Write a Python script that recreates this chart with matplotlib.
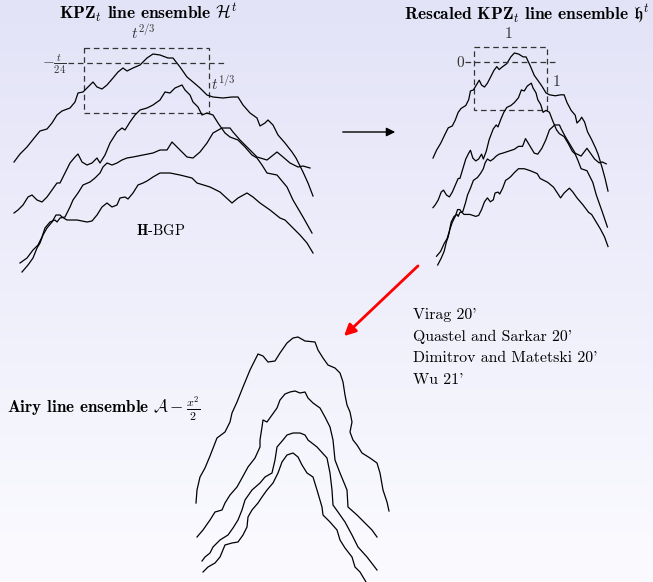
import numpy as np
import matplotlib
matplotlib.use("Agg")
import matplotlib.pyplot as plt
from matplotlib.patches import Rectangle

plt.rcParams["mathtext.fontset"] = "cm"
plt.rcParams["font.family"] = ["cmr10", "DejaVu Serif"]
plt.rcParams["axes.unicode_minus"] = False

# KPZ line ensemble curves (x, y) in the ensemble's own frame (y grows downward)
kpz_1 = [(14, 162), (20, 154), (27, 147), (35, 137), (40, 131), (47, 129), (52, 123), (57, 115),
         (62, 111), (70, 108), (75, 102), (78, 93), (83, 92), (88, 87), (93, 82), (97, 87),
         (102, 89), (107, 85), (113, 78), (118, 72), (123, 68), (127, 71), (133, 68), (140, 65),
         (147, 58), (153, 54), (160, 55), (168, 58), (173, 58), (180, 67), (187, 77), (193, 82),
         (200, 88), (207, 95), (213, 97), (223, 98), (232, 97), (238, 97), (243, 105), (250, 113),
         (257, 118), (260, 126), (265, 123), (268, 120), (273, 125), (278, 135), (285, 143),
         (292, 152), (296, 158), (303, 172), (308, 183), (313, 196)]
kpz_2 = [(14, 213), (18, 210), (23, 205), (28, 197), (32, 195), (37, 200), (42, 202), (47, 197),
         (52, 190), (57, 183), (60, 183), (65, 173), (70, 163), (75, 157), (78, 154), (82, 162),
         (87, 165), (92, 163), (97, 158), (100, 163), (105, 155), (110, 143), (117, 132), (122, 128),
         (125, 130), (130, 122), (135, 115), (140, 110), (147, 108), (153, 105), (160, 100),
         (165, 92), (170, 93), (175, 88), (182, 85), (185, 90), (190, 95), (193, 102), (198, 107),
         (202, 115), (207, 113), (213, 115), (218, 123), (225, 133), (230, 137), (238, 140),
         (245, 147), (252, 155), (257, 158), (262, 165), (267, 173), (277, 175), (287, 187),
         (293, 200), (303, 217), (312, 233)]
kpz_3 = [(20, 263), (27, 258), (33, 250), (38, 245), (42, 237), (45, 228), (50, 222), (55, 220),
         (57, 222), (60, 218), (65, 217), (70, 207), (73, 200), (78, 193), (83, 185), (90, 182),
         (95, 178), (100, 173), (103, 167), (107, 163), (112, 165), (117, 163), (122, 160),
         (127, 158), (133, 157), (143, 155), (153, 153), (160, 150), (167, 150), (172, 142),
         (180, 150), (187, 157), (193, 158), (200, 152), (207, 143), (213, 133), (222, 128),
         (230, 128), (233, 132), (240, 140), (248, 148), (257, 157), (267, 160), (277, 152),
         (283, 157), (290, 163), (298, 167), (303, 166), (310, 168)]
kpz_4 = [(22, 272), (28, 265), (33, 258), (37, 248), (40, 243), (43, 235), (47, 228), (52, 222),
         (56, 215), (60, 215), (62, 217), (67, 220), (77, 220), (87, 222), (92, 221), (97, 215),
         (102, 207), (107, 203), (112, 207), (117, 205), (120, 198), (125, 197), (128, 199),
         (133, 193), (138, 185), (143, 183), (147, 181), (153, 177), (160, 173), (167, 173),
         (170, 173), (180, 175), (192, 178), (197, 183), (210, 187), (220, 192), (232, 203),
         (238, 198), (247, 193), (253, 197), (260, 203), (270, 210), (280, 218), (285, 220),
         (293, 228), (300, 235), (307, 243), (313, 253)]

# Airy line ensemble curves
airy_1 = [(196, 503), (197, 490), (200, 477), (205, 468), (210, 456), (217, 438), (225, 432),
          (230, 422), (232, 413), (237, 402), (243, 387), (250, 370), (258, 354), (263, 356),
          (268, 362), (275, 361), (280, 353), (287, 343), (293, 338), (298, 337), (305, 341),
          (315, 342), (318, 350), (323, 358), (328, 365), (335, 368), (340, 373), (343, 382),
          (345, 395), (347, 405), (350, 412), (352, 422), (350, 432), (353, 440), (357, 445),
          (362, 453), (370, 458), (377, 463), (380, 473), (383, 490), (387, 502), (389, 511)]
airy_2 = [(197, 537), (203, 530), (210, 520), (215, 512), (222, 510), (225, 503), (230, 495),
          (237, 487), (242, 478), (248, 467), (255, 458), (260, 447), (260, 440), (262, 427),
          (263, 420), (267, 422), (272, 415), (277, 408), (280, 400), (285, 394), (290, 392),
          (295, 391), (300, 393), (305, 392), (308, 398), (313, 403), (320, 408), (325, 417),
          (330, 427), (333, 440), (335, 460), (340, 473), (347, 490), (348, 507), (357, 515),
          (367, 525), (372, 530), (377, 537)]
airy_3 = [(202, 561), (205, 557), (210, 553), (213, 547), (220, 540), (228, 535), (233, 528),
          (238, 520), (242, 510), (245, 500), (252, 490), (260, 483), (265, 477), (272, 473),
          (275, 460), (277, 447), (283, 440), (287, 435), (293, 433), (300, 433), (305, 435),
          (308, 440), (317, 447), (327, 458), (330, 473), (332, 490), (333, 505), (338, 512),
          (345, 522), (352, 535), (358, 547), (367, 557), (377, 570)]
airy_4 = [(203, 572), (208, 567), (215, 563), (220, 557), (225, 545), (232, 543), (238, 542),
          (243, 535), (247, 527), (248, 517), (252, 510), (258, 503), (262, 497), (267, 490),
          (273, 483), (278, 473), (282, 462), (287, 455), (293, 453), (298, 457), (302, 465),
          (307, 473), (313, 477), (317, 490), (322, 507), (323, 515), (330, 522), (337, 530),
          (340, 540), (345, 548), (352, 557), (355, 567), (360, 572), (366, 582)]

references = ["Virag 20'", "Quastel and Sarkar 20'", "Dimitrov and Matetski 20'", "Wu 21'"]

W, H = 653, 582


def draw_ensemble(ax, top_label, left_label, right_label, fs, right_x):
    for curve in [kpz_1, kpz_2, kpz_3, kpz_4]:
        xy = np.array(curve)
        ax.plot(xy[:, 0], xy[:, 1], color="black", lw=0.9)
    ax.add_patch(Rectangle((84, 48), 125, 65, fill=False, ls=(0, (4.5, 3)),
                           lw=0.9, edgecolor="#333333"))
    ax.plot([68, 226], [63, 63], ls=(0, (4.5, 3)), lw=0.9, color="#333333")
    ax.text(143, 38.5, top_label, ha="center", va="baseline", fontsize=fs, color="#333333")
    ax.text(67, 64, left_label, ha="right", va="center", fontsize=fs, color="#333333")
    ax.text(right_x, 84, right_label, ha="left", va="center", fontsize=fs, color="#333333")
    ax.set_xlim(0, 330)
    ax.set_ylim(280, 0)
    ax.axis("off")


fig = plt.figure(figsize=(W / 100, H / 100), dpi=100)
ax = fig.add_axes([0, 0, 1, 1])
grad = np.linspace(0, 1, 256)[:, None]
bg = plt.matplotlib.colors.LinearSegmentedColormap.from_list("bg", ["#e3e3f8", "#fbfbff"])
ax.imshow(grad, cmap=bg, extent=[0, W, H, 0], aspect="auto")
ax.set_xlim(0, W)
ax.set_ylim(H, 0)
ax.axis("off")

# left ensemble: frame maps 1:1 onto pixels
ax_l = fig.add_axes([0, 1 - 280 / H, 330 / W, 280 / H])
draw_ensemble(ax_l, r"$t^{2/3}$", r"$-\frac{t}{24}$", r"$t^{1/3}$", 11, 211)
ax_l.text(161, 230, r"$\mathbf{H}$-BGP", ha="center", va="center", fontsize=10.5)

# right ensemble: same data, compressed horizontally
sx, sy = 0.5853, 0.9725
ax_r = fig.add_axes([(433 - 14 * sx) / W, 1 - (53 - 54 * sy + 280 * sy) / H,
                     330 * sx / W, 280 * sy / H])
draw_ensemble(ax_r, "1", "0", "1", 11, 219)

ax.text(148, 19, r"$\mathbf{KPZ}_t$ line ensemble $\mathcal{H}^t$", ha="center",
        va="baseline", fontsize=12.5, family="cmb10")
ax.text(527, 19, r"Rescaled $\mathbf{KPZ}_t$ line ensemble $\mathfrak{h}^t$", ha="center",
        va="baseline", fontsize=12.5, family="cmb10")

ax.annotate("", xy=(398, 132), xytext=(340, 132),
            arrowprops=dict(arrowstyle="-|>", color="black", lw=1.0, mutation_scale=13))
ax.annotate("", xy=(342, 338), xytext=(420, 264),
            arrowprops=dict(arrowstyle="-|>", color="red", lw=2.0, mutation_scale=17))

for i, ref in enumerate(references):
    ax.text(413, 315 + i * 21.7, ref, ha="left", va="center", fontsize=11.4)

for curve in [airy_1, airy_2, airy_3, airy_4]:
    xy = np.array(curve)
    ax.plot(xy[:, 0], xy[:, 1], color="black", lw=0.9)

ax.text(7, 409, r"Airy line ensemble $\mathcal{A}-\frac{x^2}{2}$", ha="left", va="center",
        fontsize=12.3, family="cmb10")

fig.savefig("out.png", dpi=100)
